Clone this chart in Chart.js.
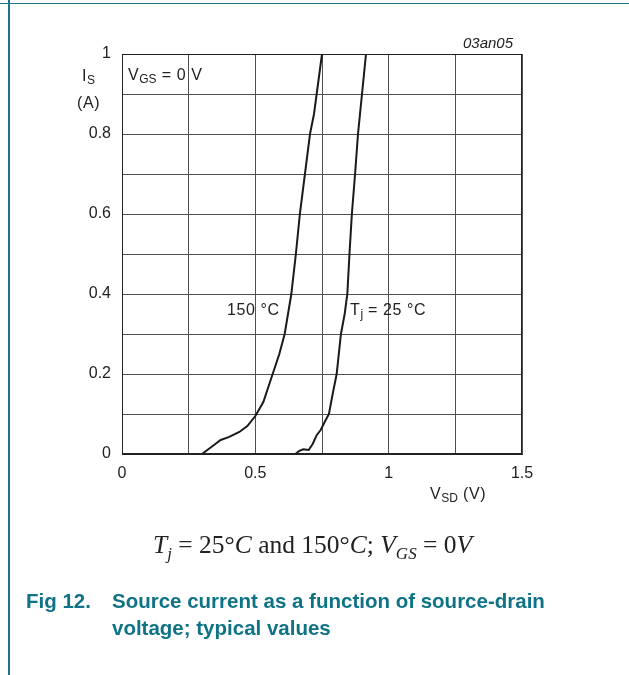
<!DOCTYPE html>
<html>
<head>
<meta charset="utf-8">
<script src="https://cdn.jsdelivr.net/npm/chart.js@4.4.1/dist/chart.umd.min.js"></script>
<style>
  html, body { margin: 0; padding: 0; background: #fff; }
  body { width: 629px; height: 675px; position: relative; overflow: hidden; font-family: "Liberation Sans", Arial, sans-serif; }
  #wrap { position: absolute; left: 0; top: 0; width: 629px; height: 675px; }
  .t { position: absolute; font-size: 16px; color: #222; white-space: nowrap; line-height: 1; letter-spacing: 0.6px; }
  .t sub { font-size: 12px; vertical-align: -3px; line-height: 0; letter-spacing: 0; }
  .frame-top { position: absolute; left: 0; top: 3px; width: 629px; height: 1px; background: #1a7487; }
  .frame-left { position: absolute; left: 8px; top: 0; width: 1.5px; height: 675px; background: #1a7487; }
  .formula { position: absolute; left: 153px; top: 532px; font-family: "Liberation Serif", "DejaVu Serif", serif; font-size: 25.5px; line-height: 1; color: #222; white-space: nowrap; }
  .formula i { font-style: italic; }
  .formula sub { font-size: 17px; vertical-align: -6px; line-height: 0; }
  .caption { position: absolute; top: 587px; left: 26px; font-weight: bold; font-size: 20.5px; color: #0e7386; line-height: 27px; white-space: nowrap; }
  .caption .num { position: absolute; left: 0; top: 0; }
  .caption .txt { position: absolute; left: 86px; top: 0; }
</style>
</head>
<body>
<div class="frame-top"></div>
<div class="frame-left"></div>
<div id="wrap"><canvas id="c"></canvas></div>

<div class="t" style="left:82px; top:68px;">I<sub>S</sub></div>
<div class="t" style="left:77px; top:95px;">(A)</div>
<div class="t" style="left:128px; top:67px;">V<sub>GS</sub> = 0 V</div>
<div class="t" style="left:227px; top:302px;">150 °C</div>
<div class="t" style="left:350px; top:302px;">T<sub>j</sub> = 25 °C</div>
<div class="t" style="left:430px; top:486px;">V<sub>SD</sub> (V)</div>
<div class="t" style="left:463px; top:35px; font-style:italic; font-size:15px; letter-spacing:0;">03an05</div>

<div class="formula"><i>T</i><sub><i>j</i></sub> = 25°<i>C</i> and 150°<i>C</i>; <i>V</i><sub><i>GS</i></sub> = 0<i>V</i></div>

<div class="caption">
  <div class="num">Fig 12.</div>
  <div class="txt">Source current as a function of source-drain<br>voltage; typical values</div>
</div>

<script>
// 150 °C curve
const v150 = [0, 0.30, 0.32, 0.35, 0.37, 0.40, 0.44, 0.47, 0.50, 0.53, 0.56, 0.59, 0.61, 0.635, 0.652, 0.667, 0.686, 0.705, 0.72, 0.73, 0.74, 0.75];
const i150 = [0, 0, 0.01, 0.025, 0.035, 0.042, 0.055, 0.07, 0.095, 0.13, 0.19, 0.25, 0.30, 0.40, 0.50, 0.60, 0.70, 0.80, 0.85, 0.90, 0.95, 1.0];

// 25 °C curve
const v25 = [0, 0.65, 0.665, 0.68, 0.70, 0.715, 0.73, 0.745, 0.76, 0.776, 0.79, 0.805, 0.821, 0.835, 0.845, 0.853, 0.862, 0.874, 0.885, 0.90, 0.915];
const i25 = [0, 0, 0.008, 0.012, 0.01, 0.025, 0.047, 0.06, 0.08, 0.10, 0.15, 0.20, 0.30, 0.35, 0.40, 0.50, 0.60, 0.70, 0.80, 0.90, 1.0];

const xTicks = [0, 0.5, 1, 1.5];
const yTicks = [0, 0.2, 0.4, 0.6, 0.8, 1];

const toPts = (xs, ys) => xs.map((x, i) => ({ x: x, y: ys[i] }));

const near = (list, v) => list.some(t => Math.abs(t - v) < 1e-6);

new Chart(document.getElementById('c'), {
    type: 'scatter',
    data: {
        datasets: [
            { data: toPts(v150, i150), showLine: true, borderColor: '#1a1a1a', borderWidth: 2, pointRadius: 0, tension: 0 },
            { data: toPts(v25, i25), showLine: true, borderColor: '#1a1a1a', borderWidth: 2, pointRadius: 0, tension: 0 }
        ]
    },
    options: {
        responsive: true,
        maintainAspectRatio: false,
        animation: false,
        layout: { padding: { left: 0, top: 54, right: 107, bottom: 191 } },
        plugins: { legend: { display: false }, tooltip: { enabled: false } },
        scales: {
            x: {
                type: 'linear', min: 0, max: 1.5,
                afterFit: s => { s.height = 30; },
                border: { color: '#222', width: 1 },
                grid: { color: '#505050', lineWidth: 1, drawTicks: false },
                ticks: {
                    stepSize: 0.25, padding: 10, color: '#222', autoSkip: false, maxRotation: 0,
                    font: { family: '"Liberation Sans", Arial, sans-serif', size: 16 },
                    callback: v => near(xTicks, v) ? String(+v.toFixed(2)) : ''
                }
            },
            y: {
                type: 'linear', min: 0, max: 1,
                afterFit: s => { s.width = 122; },
                border: { color: '#222', width: 1 },
                grid: { color: '#505050', lineWidth: 1, drawTicks: false },
                ticks: {
                    stepSize: 0.1, padding: 11, color: '#222', autoSkip: false,
                    font: { family: '"Liberation Sans", Arial, sans-serif', size: 16 },
                    callback: v => near(yTicks, v) ? String(+v.toFixed(2)) : ''
                }
            }
        }
    },
    plugins: [{
        id: 'frame',
        afterDraw(chart) {
            const a = chart.chartArea, ctx = chart.ctx;
            ctx.save();
            ctx.strokeStyle = '#222';
            ctx.lineWidth = 1;
            ctx.strokeRect(a.left + 0.5, a.top + 0.5, a.right - a.left - 1, a.bottom - a.top - 1);
            ctx.restore();
        }
    }]
});
</script>
</body>
</html>
